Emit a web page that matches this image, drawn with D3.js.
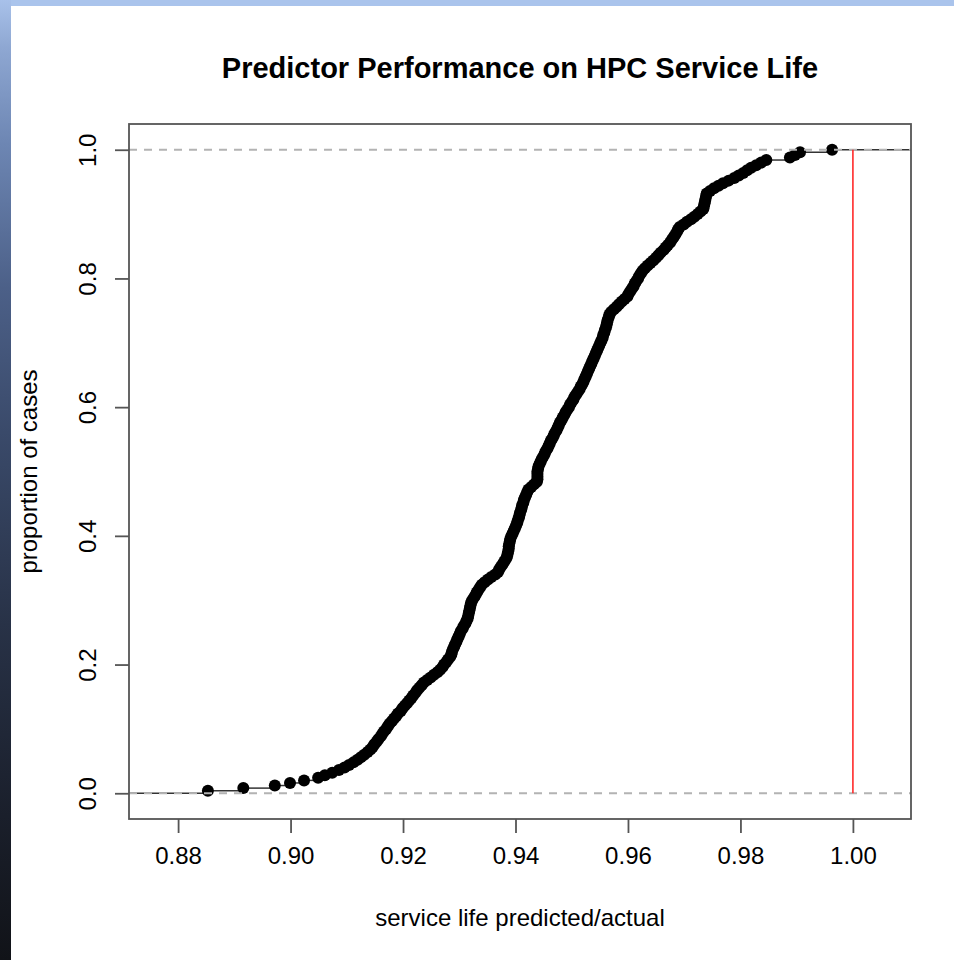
<!DOCTYPE html>
<html>
<head>
<meta charset="utf-8">
<script src="https://cdn.jsdelivr.net/npm/d3@7"></script>
<style>
  body { margin: 0; background: #fff; }
  text { font-family: "Liberation Sans", Arial, sans-serif; fill: #000; }
</style>
</head>
<body>
<div id="chart"></div>
<script>
// ratio predicted/actual, sorted
const ratios = [
  0.8853, 0.8916, 0.8972, 0.8999, 0.9024, 0.9049, 0.9061, 0.9074, 0.9086, 0.9096,
  0.9104, 0.9112, 0.9119, 0.9125, 0.9131, 0.9137, 0.9142, 0.9146, 0.9149, 0.9153,
  0.9156, 0.9160, 0.9163, 0.9166, 0.9170, 0.9173, 0.9176, 0.9180, 0.9184, 0.9188,
  0.9191, 0.9196, 0.9199, 0.9203, 0.9207, 0.9211, 0.9215, 0.9218, 0.9222, 0.9225,
  0.9229, 0.9233, 0.9237, 0.9243, 0.9249, 0.9255, 0.9261, 0.9266, 0.9270, 0.9273,
  0.9277, 0.9280, 0.9284, 0.9286, 0.9287, 0.9289, 0.9291, 0.9293, 0.9295, 0.9297,
  0.9299, 0.9301, 0.9303, 0.9306, 0.9308, 0.9311, 0.9313, 0.9315, 0.9316, 0.9317,
  0.9318, 0.9319, 0.9320, 0.9321, 0.9323, 0.9326, 0.9329, 0.9331, 0.9334, 0.9337,
  0.9340, 0.9345, 0.9351, 0.9357, 0.9364, 0.9369, 0.9371, 0.9374, 0.9377, 0.9380,
  0.9383, 0.9385, 0.9386, 0.9387, 0.9388, 0.9388, 0.9389, 0.9390, 0.9391, 0.9393,
  0.9395, 0.9397, 0.9399, 0.9401, 0.9403, 0.9404, 0.9406, 0.9407, 0.9408, 0.9410,
  0.9411, 0.9412, 0.9414, 0.9415, 0.9417, 0.9419, 0.9421, 0.9423, 0.9428, 0.9433,
  0.9438, 0.9439, 0.9439, 0.9439, 0.9439, 0.9440, 0.9441, 0.9443, 0.9445, 0.9447,
  0.9450, 0.9452, 0.9454, 0.9457, 0.9459, 0.9461, 0.9463, 0.9466, 0.9468, 0.9470,
  0.9473, 0.9475, 0.9477, 0.9479, 0.9482, 0.9484, 0.9487, 0.9489, 0.9492, 0.9495,
  0.9497, 0.9500, 0.9503, 0.9505, 0.9508, 0.9511, 0.9514, 0.9516, 0.9519, 0.9521,
  0.9523, 0.9525, 0.9527, 0.9529, 0.9531, 0.9533, 0.9535, 0.9537, 0.9539, 0.9541,
  0.9543, 0.9545, 0.9547, 0.9549, 0.9551, 0.9553, 0.9555, 0.9556, 0.9558, 0.9559,
  0.9561, 0.9562, 0.9563, 0.9564, 0.9566, 0.9567, 0.9570, 0.9575, 0.9580, 0.9584,
  0.9589, 0.9594, 0.9599, 0.9601, 0.9604, 0.9607, 0.9610, 0.9612, 0.9615, 0.9618,
  0.9620, 0.9623, 0.9626, 0.9630, 0.9635, 0.9640, 0.9645, 0.9650, 0.9654, 0.9658,
  0.9663, 0.9667, 0.9671, 0.9675, 0.9678, 0.9681, 0.9684, 0.9687, 0.9689, 0.9692,
  0.9699, 0.9705, 0.9712, 0.9718, 0.9724, 0.9729, 0.9734, 0.9735, 0.9736, 0.9737,
  0.9738, 0.9739, 0.9740, 0.9746, 0.9753, 0.9761, 0.9769, 0.9779, 0.9789, 0.9797,
  0.9805, 0.9812, 0.9819, 0.9828, 0.9837, 0.9846, 0.9888, 0.9897, 0.9906, 0.9963
];

const xTicks = [0.88, 0.90, 0.92, 0.94, 0.96, 0.98, 1.00];
const yTicks = [0.0, 0.2, 0.4, 0.6, 0.8, 1.0];
const refLine = 1.0;   // perfect prediction

const W = 954, H = 960;
let margin = { top: 124, right: 43, bottom: 141, left: 129 },
  width = W - margin.left - margin.right,
  height = H - margin.top - margin.bottom;

let svg = d3.select("#chart").append("svg")
  .attr("width", W)
  .attr("height", H);

// window frame strips
let grad = svg.append("defs").append("linearGradient")
  .attr("id", "side").attr("x1", 0).attr("y1", 0).attr("x2", 0).attr("y2", 1);
[[0, "#a8c1ea"], [0.05, "#8ea7d2"], [0.15, "#6d86b3"], [0.3, "#4c6088"],
 [0.45, "#3a4a6a"], [0.65, "#283247"], [0.85, "#1a1f2b"], [1, "#111318"]]
  .forEach(s => grad.append("stop").attr("offset", s[0]).attr("stop-color", s[1]));
svg.append("rect").attr("x", 0).attr("y", 0).attr("width", W).attr("height", 6).attr("fill", "#aac4ec");
svg.append("rect").attr("x", 0).attr("y", 0).attr("width", 11).attr("height", H).attr("fill", "url(#side)");

svg.select("defs").append("clipPath").attr("id", "clip")
  .append("rect").attr("width", width).attr("height", height);

let g = svg.append("g")
  .attr("transform", "translate(" + margin.left + "," + margin.top + ")");

// R style limits: range +- 8% for the step function, then 4% axis padding
let n = ratios.length;
let lo = d3.min(ratios), hi = d3.max(ratios);
let dr = 0.08 * (hi - lo);
let xl = [lo - dr, hi + dr];
let pad = 0.04 * (xl[1] - xl[0]);

let x = d3.scaleLinear()
  .domain([xl[0] - pad, xl[1] + pad])
  .range([0, width]);
let y = d3.scaleLinear()
  .domain([-0.04, 1.04])
  .range([height, 0]);

let ecdf = ratios.map((v, i) => ({ x: v, p: (i + 1) / n }));

let plot = g.append("g").attr("clip-path", "url(#clip)");

// horizontal steps
let steps = [{ x0: x.domain()[0] - 1, x1: ratios[0], p: 0 }]
  .concat(ecdf.map((d, i) => ({ x0: d.x, x1: i < n - 1 ? ratios[i + 1] : x.domain()[1] + 1, p: d.p })));
plot.selectAll(".step")
  .data(steps)
  .enter()
  .append("line")
  .attr("class", "step")
  .attr("x1", d => x(d.x0))
  .attr("x2", d => x(d.x1))
  .attr("y1", d => y(d.p))
  .attr("y2", d => y(d.p))
  .attr("stroke", "#333")
  .attr("stroke-width", 1.5);

plot.selectAll(".pt")
  .data(ecdf)
  .enter()
  .append("circle")
  .attr("class", "pt")
  .attr("cx", d => x(d.x))
  .attr("cy", d => y(d.p))
  .attr("r", 6)
  .attr("fill", "#000");

// 0 and 1 guide lines
plot.selectAll(".guide")
  .data([0, 1])
  .enter()
  .append("line")
  .attr("class", "guide")
  .attr("x1", 0)
  .attr("x2", width)
  .attr("y1", d => y(d))
  .attr("y2", d => y(d))
  .attr("stroke", "#b3b3b3")
  .attr("stroke-width", 2)
  .attr("stroke-dasharray", "8,7");

// red reference line
g.append("line")
  .attr("x1", x(refLine)).attr("x2", x(refLine))
  .attr("y1", y(0)).attr("y2", y(1))
  .attr("stroke", "#ff2a2a")
  .attr("stroke-width", 1.6);

// box
g.append("rect")
  .attr("width", width).attr("height", height)
  .attr("fill", "none").attr("stroke", "#555").attr("stroke-width", 1.8);

// axes
let xAxis = g.append("g")
  .attr("transform", "translate(0," + height + ")")
  .call(d3.axisBottom(x).tickValues(xTicks).tickFormat(d3.format(".2f")).tickSize(14).tickPadding(14));
let yAxis = g.append("g")
  .call(d3.axisLeft(y).tickValues(yTicks).tickFormat(d3.format(".1f")).tickSize(14));

[xAxis, yAxis].forEach(a => {
  a.select(".domain").remove();
  a.selectAll("line").attr("stroke", "#555").attr("stroke-width", 1.8);
  a.selectAll("text").attr("font-size", "24px").attr("fill", "#000")
    .attr("font-family", '"Liberation Sans", Arial, sans-serif');
});
xAxis.selectAll("text").attr("dy", "0.71em");
yAxis.selectAll("text")
  .attr("x", null).attr("dy", null)
  .attr("transform", "translate(-33,0) rotate(-90)")
  .attr("text-anchor", "middle");

// title and labels
svg.append("text")
  .attr("x", margin.left + width / 2)
  .attr("y", 78)
  .attr("text-anchor", "middle")
  .attr("font-size", "29px")
  .attr("font-weight", "bold")
  .text("Predictor Performance on HPC Service Life");

svg.append("text")
  .attr("x", margin.left + width / 2)
  .attr("y", 926)
  .attr("text-anchor", "middle")
  .attr("font-size", "24px")
  .text("service life predicted/actual");

svg.append("text")
  .attr("transform", "translate(37," + (margin.top + height / 2) + ") rotate(-90)")
  .attr("text-anchor", "middle")
  .attr("font-size", "24px")
  .text("proportion of cases");
</script>
</body>
</html>
